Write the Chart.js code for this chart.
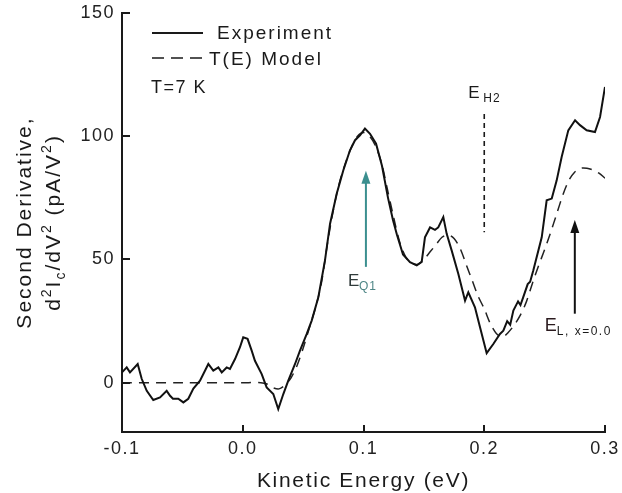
<!DOCTYPE html>
<html>
<head>
<meta charset="utf-8">
<script src="https://cdn.jsdelivr.net/npm/chart.js@4.4.1/dist/chart.umd.min.js"></script>
<style>
  html, body { margin: 0; padding: 0; background: #fff; }
  canvas { display: block; }
</style>
</head>
<body>
<canvas id="chart" width="622" height="493"></canvas>
<script>
// values
const expEnergy = [
  -0.1, -0.0961, -0.0934, -0.087, -0.0837, -0.0795, -0.0741, -0.0685, -0.063, -0.0602,
  -0.0578, -0.0534, -0.0492, -0.0451, -0.0409, -0.0354, -0.0285, -0.0244, -0.0202, -0.0174,
  -0.0133, -0.0106, -0.0064, -0.0023, 0.0004, 0.004, 0.0074, 0.0101, 0.0157, 0.0198,
  0.0253, 0.0294, 0.0336, 0.0377, 0.0433, 0.0474, 0.053, 0.0571, 0.0626, 0.0681,
  0.0723, 0.0778, 0.0833, 0.0888, 0.093, 0.0971, 0.1012, 0.1054, 0.1104, 0.1153,
  0.1203, 0.1244, 0.1277, 0.1327, 0.1385, 0.1441, 0.1482, 0.1509, 0.1551, 0.1592,
  0.1619, 0.1661, 0.1689, 0.173, 0.1785, 0.1841, 0.1868, 0.1923, 0.1965, 0.202,
  0.2075, 0.213, 0.2158, 0.219, 0.2215, 0.2241, 0.228, 0.230, 0.2323, 0.236,
  0.238, 0.2406, 0.2476, 0.2517, 0.2559, 0.26, 0.2641, 0.2696, 0.2752, 0.2793,
  0.2848, 0.2917, 0.2959, 0.3
];
const expSignal = [
  4.2, 6.2, 4.2, 7.6, 1.6, -3.3, -7, -6, -3.3, -5.3,
  -6.5, -6.5, -8, -6.5, -2.4, 0.8, 7.6, 4.9, 6.2, 4.2,
  6.2, 5.6, 9.6, 14.4, 18.4, 17.8, 13, 8.9, 3.5, -1.9,
  -4.6, -10.7, -4.6, 0.8, 7.6, 13, 19.8, 25.2, 34.7, 49.6,
  64.5, 76.7, 86.2, 94.3, 98.4, 100.4, 103.1, 101, 97, 88,
  75, 66, 60, 52, 48.9, 47.6, 49, 59, 63, 62,
  63, 67.2, 60.4, 53.7, 44.2, 33.3, 36.7, 30.6, 22.5, 12,
  15.7, 19.8, 21.1, 25, 23.5, 29.3, 33, 31.5, 34.7, 40,
  41, 45.5, 59, 74, 74.7, 82.1, 91.6, 102.4, 106.5, 104.5,
  102.4, 101.7, 107.8, 120
];
const modelEnergy = [
  -0.1, -0.05, 0.0, 0.015, 0.02, 0.025, 0.03, 0.035, 0.04, 0.045,
  0.05, 0.055, 0.06, 0.065, 0.07, 0.075, 0.08, 0.085, 0.09, 0.095,
  0.1, 0.105, 0.11, 0.115, 0.12, 0.125, 0.13, 0.135, 0.14, 0.145,
  0.15, 0.155, 0.16, 0.165, 0.17, 0.175, 0.18, 0.185, 0.19, 0.195,
  0.2, 0.205, 0.21, 0.215, 0.22, 0.225, 0.23, 0.235, 0.24, 0.245,
  0.25, 0.255, 0.26, 0.265, 0.27, 0.275, 0.28, 0.285, 0.29, 0.295,
  0.3
];
const modelSignal = [
  0, 0, 0, 0, -0.5, -2, -2.5, -1, 2, 7,
  14, 22, 30, 40, 56, 70, 81, 89, 95.5, 100,
  101.5, 100, 96, 89, 78, 67, 57, 51, 48.5, 48,
  50, 53, 56, 59, 60, 58.5, 54.5, 48, 41.5, 35,
  30, 24, 20, 18.5, 20.5, 23.5, 27.5, 33, 40.5, 47.5,
  54, 61, 68.5, 76, 82, 85.5, 87, 87, 86.3, 85,
  83
];
const xTickValues = [-0.1, 0, 0.1, 0.2, 0.3];
const yTickValues = [0, 50, 100, 150];
const seriesNames = ['Experiment', 'T(E) Model'];

// annotations in data units
const arrowQ1 = { x: 0.102, from: 47, to: 86 };
const lineH2 = { x: 0.2, from: 61, to: 109 };
const arrowL = { x: 0.275, from: 28, to: 66 };

const FONT = '"Liberation Sans", Arial, Helvetica, sans-serif';
Chart.defaults.font.family = FONT;

function pairs(xs, ys) {
  return xs.map((x, i) => ({ x, y: ys[i] }));
}

// draws a run of text pieces: [text, size, yShift]
function richText(ctx, parts, x, y, align) {
  let total = 0;
  parts.forEach(p => {
    ctx.font = p[1] + 'px ' + FONT;
    total += ctx.measureText(p[0]).width;
  });
  let cx = align === 'center' ? x - total / 2 : x;
  parts.forEach(p => {
    ctx.font = p[1] + 'px ' + FONT;
    ctx.fillText(p[0], cx, y + (p[2] || 0));
    cx += ctx.measureText(p[0]).width;
  });
}

function arrowUp(ctx, x, yFrom, yTo, color) {
  ctx.strokeStyle = color;
  ctx.fillStyle = color;
  ctx.lineWidth = 2;
  ctx.setLineDash([]);
  ctx.beginPath();
  ctx.moveTo(x, yFrom);
  ctx.lineTo(x, yTo + 10);
  ctx.stroke();
  ctx.beginPath();
  ctx.moveTo(x, yTo);
  ctx.lineTo(x - 4.5, yTo + 13);
  ctx.lineTo(x + 4.5, yTo + 13);
  ctx.closePath();
  ctx.fill();
}

const decorations = {
  id: 'decorations',
  beforeDraw(chart) {
    chart.ctx.letterSpacing = '1.5px';
  },
  afterDraw(chart) {
    const ctx = chart.ctx;
    const xs = chart.scales.x, ys = chart.scales.y;
    const area = chart.chartArea;
    ctx.save();
    ctx.textAlign = 'left';
    ctx.textBaseline = 'alphabetic';
    ctx.fillStyle = '#1a1a1a';

    // inward tick marks
    ctx.strokeStyle = '#1a1a1a';
    ctx.lineWidth = 2;
    ctx.setLineDash([]);
    yTickValues.forEach(v => {
      const py = Math.round(ys.getPixelForValue(v));
      ctx.beginPath();
      ctx.moveTo(area.left, py);
      ctx.lineTo(area.left + 8, py);
      ctx.stroke();
    });
    xTickValues.forEach(v => {
      const px = Math.round(xs.getPixelForValue(v));
      ctx.beginPath();
      ctx.moveTo(px, area.bottom);
      ctx.lineTo(px, area.bottom - 7);
      ctx.stroke();
    });

    // axis titles
    ctx.letterSpacing = '1.7px';
    richText(ctx, [['Kinetic Energy (eV)', 21]], (area.left + area.right) / 2, 487, 'center');

    const cy = (area.top + area.bottom) / 2;
    ctx.letterSpacing = '2px';
    ctx.save();
    ctx.translate(31, cy);
    ctx.rotate(-Math.PI / 2);
    richText(ctx, [['Second Derivative,', 21]], 0, 0, 'center');
    ctx.restore();
    ctx.save();
    ctx.translate(60, cy);
    ctx.rotate(-Math.PI / 2);
    richText(ctx, [
      ['d', 21], ['2', 14, -9], ['I', 21], ['c', 14, 5], ['/dV', 21], ['2', 14, -9],
      [' (pA/V', 21], ['2', 14, -9], [')', 21]
    ], 0, 0, 'center');
    ctx.restore();

    // legend
    ctx.letterSpacing = '2px';
    ctx.lineWidth = 2;
    ctx.beginPath();
    ctx.moveTo(152, 33);
    ctx.lineTo(203, 33);
    ctx.stroke();
    ctx.lineWidth = 1.6;
    ctx.setLineDash([12, 7]);
    ctx.beginPath();
    ctx.moveTo(152, 58);
    ctx.lineTo(203, 58);
    ctx.stroke();
    ctx.setLineDash([]);
    richText(ctx, [[seriesNames[0], 19]], 217, 39, 'left');
    richText(ctx, [[seriesNames[1], 19]], 209, 65, 'left');
    ctx.letterSpacing = '1.5px';
    richText(ctx, [['T=7 K', 18]], 151, 93, 'left');

    // E_H2 marker line
    const hx = xs.getPixelForValue(lineH2.x);
    ctx.lineWidth = 1.6;
    ctx.setLineDash([5, 4]);
    ctx.beginPath();
    ctx.moveTo(hx, ys.getPixelForValue(lineH2.to));
    ctx.lineTo(hx, ys.getPixelForValue(lineH2.from));
    ctx.stroke();
    ctx.setLineDash([]);
    ctx.letterSpacing = '1px';
    richText(ctx, [['E', 17]], hx - 16, ys.getPixelForValue(lineH2.to) - 16, 'left');
    richText(ctx, [['H2', 12]], hx - 1, ys.getPixelForValue(lineH2.to) - 12, 'left');

    // E_Q1 arrow
    const qx = xs.getPixelForValue(arrowQ1.x);
    arrowUp(ctx, qx, ys.getPixelForValue(arrowQ1.from), ys.getPixelForValue(arrowQ1.to), '#3b8f8f');
    const qBase = ys.getPixelForValue(arrowQ1.from) + 19;
    ctx.fillStyle = '#2f3a3a';
    richText(ctx, [['E', 17]], qx - 18, qBase, 'left');
    ctx.fillStyle = '#4d8585';
    richText(ctx, [['Q1', 12]], qx - 7, qBase + 4, 'left');

    // E_L arrow
    const lx = xs.getPixelForValue(arrowL.x);
    arrowUp(ctx, lx, ys.getPixelForValue(arrowL.from), ys.getPixelForValue(arrowL.to), '#111');
    const lBase = ys.getPixelForValue(arrowL.from) + 17;
    ctx.fillStyle = '#2a1a1e';
    richText(ctx, [['E', 18]], lx - 30, lBase, 'left');
    ctx.fillStyle = '#1a1a1a';
    ctx.letterSpacing = '1.5px';
    richText(ctx, [['L, x=0.0', 12]], lx - 18, lBase + 4, 'left');

    ctx.restore();
    ctx.letterSpacing = '0px';
  }
};

new Chart(document.getElementById('chart'), {
  type: 'scatter',
  data: {
    datasets: [
      {
        label: seriesNames[0],
        data: pairs(expEnergy, expSignal),
        showLine: true,
        borderColor: '#111',
        borderWidth: 2,
        pointRadius: 0,
        tension: 0
      },
      {
        label: seriesNames[1],
        data: pairs(modelEnergy, modelSignal),
        showLine: true,
        borderColor: '#222',
        borderWidth: 1.5,
        borderDash: [10, 7],
        pointRadius: 0,
        tension: 0.3
      }
    ]
  },
  options: {
    responsive: false,
    animation: false,
    devicePixelRatio: 1,
    layout: { padding: { top: 13, right: 17, left: 0, bottom: 0 } },
    plugins: {
      legend: { display: false },
      tooltip: { enabled: false }
    },
    scales: {
      x: {
        type: 'linear',
        min: -0.1,
        max: 0.3,
        afterBuildTicks: s => { s.ticks = xTickValues.map(v => ({ value: v })); },
        afterFit: s => {
          s.height = 61;
          s.paddingLeft = 0;
          s.paddingRight = 0;
        },
        grid: { display: false, drawTicks: false },
        border: { display: true, color: '#1a1a1a', width: 2 },
        ticks: {
          padding: 6,
          color: '#222',
          font: { size: 18 },
          maxRotation: 0,
          callback: v => v.toFixed(1)
        }
      },
      y: {
        type: 'linear',
        min: -20,
        max: 150,
        afterBuildTicks: s => { s.ticks = yTickValues.map(v => ({ value: v })); },
        afterFit: s => {
          s.width = 122;
          s.paddingTop = 0;
          s.paddingBottom = 0;
        },
        grid: { display: false, drawTicks: false },
        border: { display: true, color: '#1a1a1a', width: 2 },
        ticks: {
          padding: 7,
          color: '#222',
          font: { size: 18 }
        }
      }
    }
  },
  plugins: [decorations]
});
</script>
</body>
</html>
